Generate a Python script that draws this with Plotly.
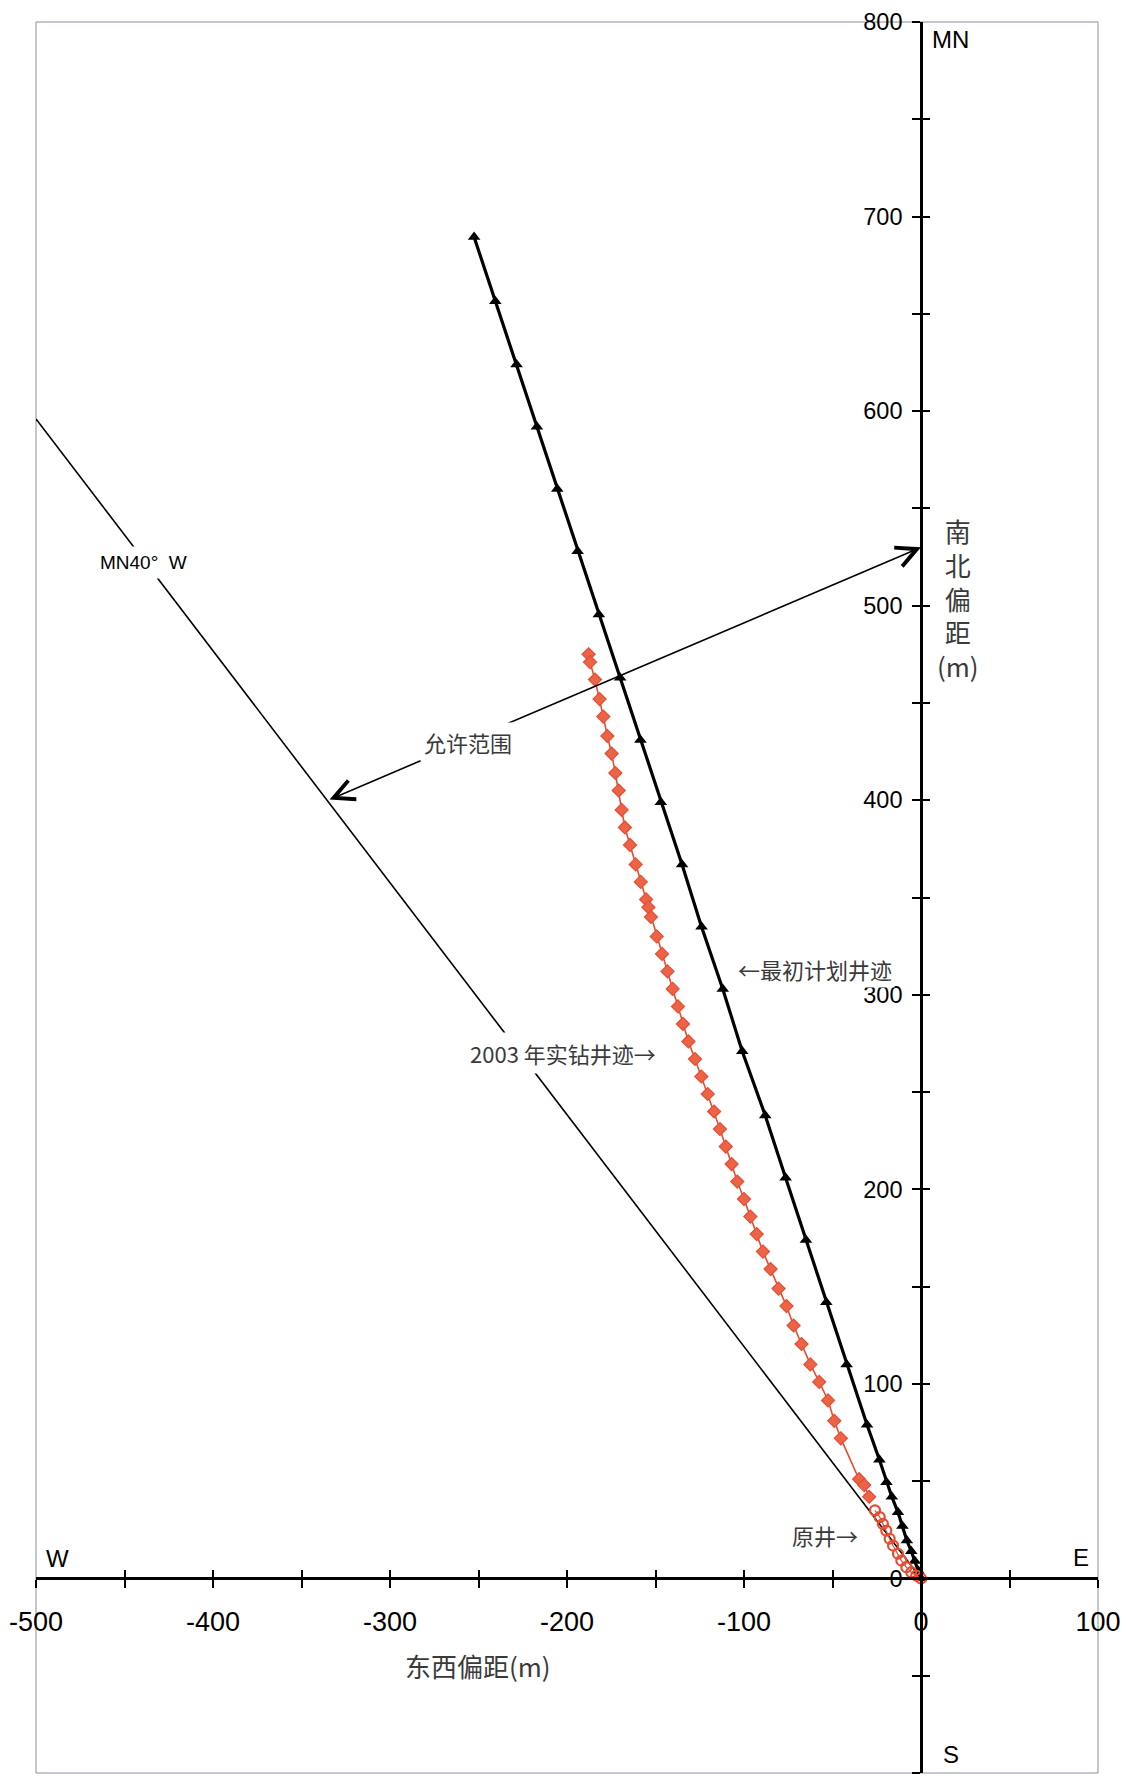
import plotly.graph_objects as go

# ---------------- well track data (east offset / north offset, metres) ----------------
# initial planned well path
plan_east = [-252.5, -240.5, -228.5, -217.0, -205.5, -194.0, -182.0, -170.0, -158.5, -147.0,
             -135.0, -124.0, -112.0, -101.0, -88.0, -76.5, -65.0, -53.5, -42.0, -30.5,
             -23.5, -19.5, -16.5, -13.0, -10.5, -8.0, -5.5, -3.5, -1.5, 0.0]
plan_north = [689.5, 656.5, 624.0, 592.0, 560.0, 528.0, 495.5, 463.0, 431.0, 399.0,
              367.0, 335.0, 303.0, 271.0, 238.0, 206.0, 174.0, 142.0, 110.0, 79.0,
              61.0, 49.5, 42.0, 34.0, 27.0, 19.5, 14.0, 9.0, 4.0, 0.0]

# 2003 drilled well path
drill_east = [-187.8, -187.0, -184.2, -181.6, -179.5, -177.2, -174.8, -172.7, -170.8, -169.1,
              -167.3, -164.4, -161.2, -158.3, -155.3, -154.0, -152.6, -149.3, -146.3, -143.2,
              -140.3, -137.3, -134.5, -131.4, -127.7, -124.1, -120.5, -116.9, -113.6, -110.3,
              -107.0, -103.8, -100.0, -96.4, -92.8, -89.3, -85.0, -80.5, -76.0, -72.0,
              -67.5, -62.5, -57.5, -52.5, -49.0, -45.3, -35.0, -32.1, -29.3]
drill_north = [475.0, 471.0, 462.0, 452.0, 443.0, 433.0, 424.0, 414.0, 405.0, 395.0,
               386.0, 377.0, 367.0, 358.0, 349.0, 345.0, 340.0, 330.0, 321.0, 312.0,
               303.0, 294.0, 285.0, 276.0, 267.0, 258.0, 249.0, 240.0, 231.0, 222.0,
               213.0, 204.0, 195.0, 186.0, 177.0, 168.0, 159.0, 149.0, 140.0, 130.0,
               120.5, 110.0, 101.0, 91.5, 81.0, 72.0, 51.0, 48.0, 42.0]

# original well
orig_east = [-26.0, -23.3, -21.5, -19.6, -17.7, -15.8, -13.0, -11.1, -8.3, -5.5, -2.7, 0.0]
orig_north = [35.0, 31.5, 28.0, 24.6, 20.4, 16.9, 12.7, 9.2, 5.8, 3.2, 1.5, 0.0]

# MN40°W bearing limit line
bearing_east = [0.0, -500.0]
bearing_north = [0.0, 596.0]

# allowed-range arrow: tail on the bearing line, head on the north axis
range_tail = (-335.0, 400.0)
range_head = (0.0, 530.0)

# axes
x_range = [-500, 100]
y_range = [-100, 800]
x_tickvals = [-500, -450, -400, -350, -300, -250, -200, -150, -100, -50, 0, 50, 100]
x_ticktext = ["-500", "", "-400", "", "-300", "", "-200", "", "-100", "", "0", "", "100"]
y_tickvals = [-100, -50, 0, 50, 100, 150, 200, 250, 300, 350, 400, 450, 500, 550, 600, 650, 700, 750, 800]
y_ticktext = ["-100", "", "0", "", "100", "", "200", "", "300", "", "400", "", "500", "", "600", "", "700", "", "800"]

RED = "#e84c30"
CJK = "Noto Sans CJK SC"
LATIN = "Liberation Sans, Arial, sans-serif"
TEXT = "#3a3a3a"

# axes cross at the origin
x_axis_pos = (0 - y_range[0]) / (y_range[1] - y_range[0])
y_axis_pos = (0 - x_range[0]) / (x_range[1] - x_range[0])

fig = go.Figure()

fig.add_trace(go.Scatter(
    x=bearing_east, y=bearing_north, mode="lines",
    line=dict(color="black", width=1.6), hoverinfo="skip", showlegend=False))

fig.add_trace(go.Scatter(
    x=plan_east, y=plan_north, mode="lines+markers",
    line=dict(color="black", width=3.2),
    marker=dict(symbol="triangle-up", size=11, color="black"),
    name="最初计划井迹", showlegend=False))

fig.add_trace(go.Scatter(
    x=drill_east, y=drill_north, mode="lines+markers",
    line=dict(color=RED, width=1.6),
    marker=dict(symbol="diamond", size=10, color="#ec6448", line=dict(color=RED, width=1.2)),
    name="2003年实钻井迹", showlegend=False))

fig.add_trace(go.Scatter(
    x=orig_east, y=orig_north, mode="lines+markers",
    line=dict(color=RED, width=1.2),
    marker=dict(symbol="circle-open", size=10, color=RED, line=dict(width=2.2)),
    name="原井", showlegend=False))

# empty trace so the overlay axes (inner half of the cross ticks) are drawn
fig.add_trace(go.Scatter(x=[], y=[], xaxis="x2", yaxis="y2", showlegend=False, hoverinfo="skip"))

axis_base = dict(showgrid=False, zeroline=False, tickcolor="black", tickwidth=2, ticklen=8,
                 fixedrange=True)

fig.update_layout(
    width=1130, height=1782,
    margin=dict(l=35, r=31, t=20, b=9),
    paper_bgcolor="white", plot_bgcolor="white",
    xaxis=dict(range=x_range, anchor="free", position=x_axis_pos,
               tickmode="array", tickvals=x_tickvals, ticktext=x_ticktext,
               ticks="outside", showline=True, linecolor="black", linewidth=2.6,
               tickfont=dict(family=LATIN, size=27, color="black"),
               ticklabelstandoff=10, **axis_base),
    yaxis=dict(range=y_range, anchor="free", position=y_axis_pos,
               tickmode="array", tickvals=y_tickvals, ticktext=y_ticktext,
               ticks="outside", showline=True, linecolor="black", linewidth=2.6,
               tickfont=dict(family=LATIN, size=23.5, color="black"),
               ticklabelstandoff=5, **axis_base),
    xaxis2=dict(range=x_range, overlaying="x", anchor="free", position=x_axis_pos,
                tickmode="array", tickvals=x_tickvals, ticks="inside",
                showticklabels=False, showline=False, **axis_base),
    yaxis2=dict(range=y_range, overlaying="y", anchor="free", position=y_axis_pos,
                tickmode="array", tickvals=y_tickvals, ticks="inside",
                showticklabels=False, showline=False, **axis_base),
    shapes=[dict(type="rect", xref="paper", yref="paper", x0=0, x1=1, y0=0, y1=1,
                 line=dict(color="#8a90a0", width=1), layer="below")],
)


def label(x, y, text, size, family=CJK, color=TEXT, ref="x", **kw):
    xr, yr = ("paper", "paper") if ref == "paper" else ("x", "y")
    return dict(x=x, y=y, xref=xr, yref=yr, text=text, showarrow=False,
                xanchor="center", yanchor="middle",
                font=dict(family=family, size=size, color=color), **kw)


annotations = [
    # allowed range double arrow
    dict(x=range_head[0], y=range_head[1], ax=range_tail[0], ay=range_tail[1],
         xref="x", yref="y", axref="x", ayref="y", text="", showarrow=True,
         arrowhead=5, startarrowhead=5, arrowside="end+start",
         arrowsize=2.5, startarrowsize=2.5, arrowwidth=1.6, arrowcolor="black"),
    label(-256, 430, "允许范围", 22, bgcolor="white", borderpad=3),
    label(-439, 522, "MN40°  W", 19, family=LATIN, color="black", bgcolor="white", borderpad=5),
    label(-60, 313, "←最初计划井迹", 22, bgcolor="white", borderpad=2),
    label(-202.5, 270, "2003 年实钻井迹→", 22, bgcolor="white", borderpad=4),
    label(-54, 22.5, "原井→", 22),
    label(0.416, 0.0614, "东西偏距(m)", 26, ref="paper"),
    label(0.868, 0.671, "南<br>北<br>偏<br>距<br>(m)", 26, ref="paper"),
    label(0.861, 0.990, "MN", 24, family=LATIN, color="black", ref="paper"),
    label(0.0207, 0.1223, "W", 24, family=LATIN, color="black", ref="paper"),
    label(0.984, 0.1232, "E", 24, family=LATIN, color="black", ref="paper"),
    label(0.862, 0.0108, "S", 24, family=LATIN, color="black", ref="paper"),
]
fig.update_layout(annotations=annotations)

fig.write_html("out.html")
